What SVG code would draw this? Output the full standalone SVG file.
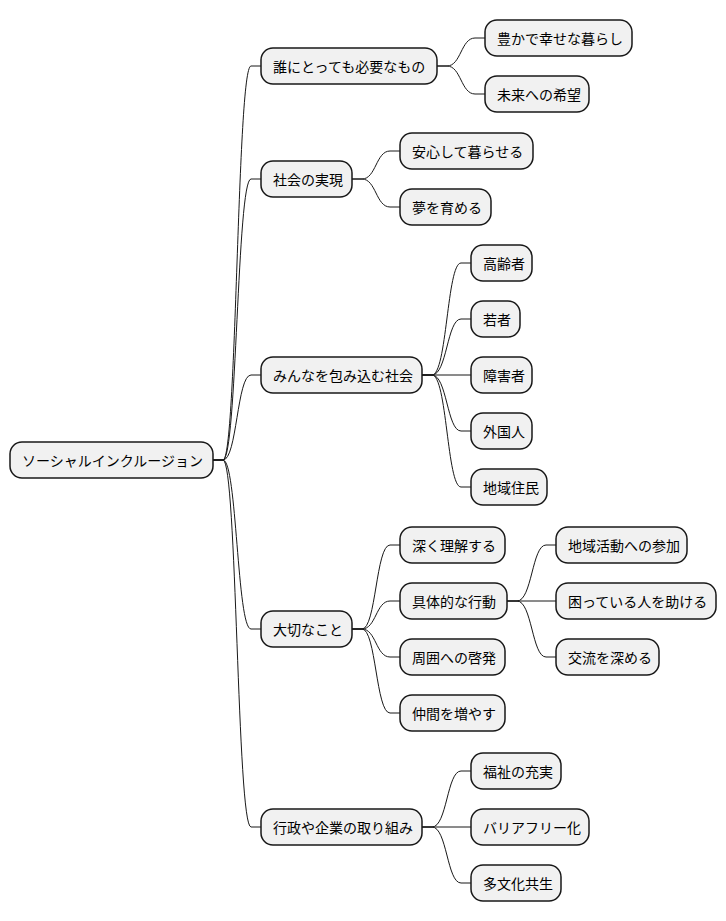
<svg xmlns="http://www.w3.org/2000/svg" width="726" height="921" viewBox="0 0 726 921">
<style>
.n rect{fill:#F1F1F1;stroke:#181818;stroke-width:1.5}
.n text{font-family:"Noto Sans CJK JP","Noto Sans",sans-serif;font-size:14px;fill:#000;dominant-baseline:central}
#c path{fill:none;stroke:#181818;stroke-width:1}
</style>
<rect width="726" height="921" fill="#fff"/>
<g id="c">
<path d="M213 460 L223 460 C237 460 237 66 251 66 L261 66"/>
<path d="M213 460 L223 460 C237 460 237 179 251 179 L261 179"/>
<path d="M213 460 L223 460 C237 460 237 375 251 375 L261 375"/>
<path d="M213 460 L223 460 C237 460 237 629 251 629 L261 629"/>
<path d="M213 460 L223 460 C237 460 237 827 251 827 L261 827"/>
<path d="M437 66 L447 66 C461 66 461 38 475 38 L485 38"/>
<path d="M437 66 L447 66 C461 66 461 94 475 94 L485 94"/>
<path d="M352 179 L362 179 C376 179 376 151 390 151 L400 151"/>
<path d="M352 179 L362 179 C376 179 376 207 390 207 L400 207"/>
<path d="M422 375 L432 375 C447 375 447 263 461 263 L471 263"/>
<path d="M422 375 L432 375 C447 375 447 319 461 319 L471 319"/>
<path d="M422 375 L471 375"/>
<path d="M422 375 L432 375 C447 375 447 431 461 431 L471 431"/>
<path d="M422 375 L432 375 C447 375 447 487 461 487 L471 487"/>
<path d="M352 629 L362 629 C376 629 376 545 390 545 L400 545"/>
<path d="M352 629 L362 629 C376 629 376 601 390 601 L400 601"/>
<path d="M352 629 L362 629 C376 629 376 657 390 657 L400 657"/>
<path d="M352 629 L362 629 C376 629 376 713 390 713 L400 713"/>
<path d="M507 601 L517 601 C532 601 532 545 546 545 L556 545"/>
<path d="M507 601 L556 601"/>
<path d="M507 601 L517 601 C532 601 532 657 546 657 L556 657"/>
<path d="M422 827 L432 827 C447 827 447 771 461 771 L471 771"/>
<path d="M422 827 L471 827"/>
<path d="M422 827 L432 827 C447 827 447 883 461 883 L471 883"/>
</g>
<g id="root" class="n"><rect x="10" y="442" width="203" height="36" rx="12"/><text x="22" y="460">ソーシャルインクルージョン</text></g>
<g id="n1" class="n"><rect x="261" y="48" width="176" height="36" rx="12"/><text x="273" y="66">誰にとっても必要なもの</text></g>
<g id="n2" class="n"><rect x="261" y="161" width="91" height="36" rx="12"/><text x="273" y="179">社会の実現</text></g>
<g id="n3" class="n"><rect x="261" y="357" width="161" height="36" rx="12"/><text x="273" y="375">みんなを包み込む社会</text></g>
<g id="n4" class="n"><rect x="261" y="611" width="91" height="36" rx="12"/><text x="273" y="629">大切なこと</text></g>
<g id="n5" class="n"><rect x="261" y="809" width="161" height="36" rx="12"/><text x="273" y="827">行政や企業の取り組み</text></g>
<g id="n1a" class="n"><rect x="485" y="20" width="147" height="36" rx="12"/><text x="497" y="38">豊かで幸せな暮らし</text></g>
<g id="n1b" class="n"><rect x="485" y="76" width="104" height="36" rx="12"/><text x="497" y="94">未来への希望</text></g>
<g id="n2a" class="n"><rect x="400" y="133" width="133" height="36" rx="12"/><text x="412" y="151">安心して暮らせる</text></g>
<g id="n2b" class="n"><rect x="400" y="189" width="91" height="36" rx="12"/><text x="412" y="207">夢を育める</text></g>
<g id="n3a" class="n"><rect x="471" y="245" width="61" height="36" rx="12"/><text x="483" y="263">高齢者</text></g>
<g id="n3b" class="n"><rect x="471" y="301" width="49" height="36" rx="12"/><text x="483" y="319">若者</text></g>
<g id="n3c" class="n"><rect x="471" y="357" width="61" height="36" rx="12"/><text x="483" y="375">障害者</text></g>
<g id="n3d" class="n"><rect x="471" y="413" width="61" height="36" rx="12"/><text x="483" y="431">外国人</text></g>
<g id="n3e" class="n"><rect x="471" y="469" width="76" height="36" rx="12"/><text x="483" y="487">地域住民</text></g>
<g id="n4a" class="n"><rect x="400" y="527" width="105" height="36" rx="12"/><text x="412" y="545">深く理解する</text></g>
<g id="n4b" class="n"><rect x="400" y="583" width="107" height="36" rx="12"/><text x="412" y="601">具体的な行動</text></g>
<g id="n4c" class="n"><rect x="400" y="639" width="105" height="36" rx="12"/><text x="412" y="657">周囲への啓発</text></g>
<g id="n4d" class="n"><rect x="400" y="695" width="105" height="36" rx="12"/><text x="412" y="713">仲間を増やす</text></g>
<g id="n4b1" class="n"><rect x="556" y="527" width="131" height="36" rx="12"/><text x="568" y="545">地域活動への参加</text></g>
<g id="n4b2" class="n"><rect x="556" y="583" width="160" height="36" rx="12"/><text x="568" y="601">困っている人を助ける</text></g>
<g id="n4b3" class="n"><rect x="556" y="639" width="103" height="36" rx="12"/><text x="568" y="657">交流を深める</text></g>
<g id="n5a" class="n"><rect x="471" y="753" width="90" height="36" rx="12"/><text x="483" y="771">福祉の充実</text></g>
<g id="n5b" class="n"><rect x="471" y="809" width="118" height="36" rx="12"/><text x="483" y="827">バリアフリー化</text></g>
<g id="n5c" class="n"><rect x="471" y="865" width="90" height="36" rx="12"/><text x="483" y="883">多文化共生</text></g>
</svg>
